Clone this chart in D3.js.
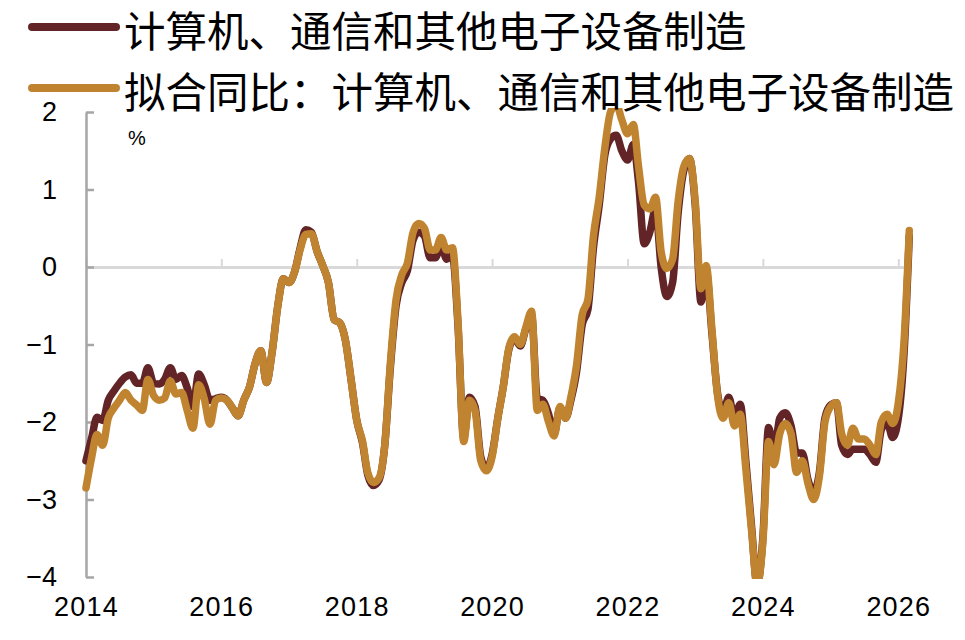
<!DOCTYPE html>
<html>
<head>
<meta charset="utf-8">
<script src="https://d3js.org/d3.v7.min.js"></script>
<style>
  body { margin: 0; background: #fff; }
  text { font-family: "Liberation Sans", Arial, sans-serif; }
  .legendText { font-family: "Noto Sans CJK SC", sans-serif; }
</style>
</head>
<body>
<div id="chart"></div>
<script>
// monthly data, starting Jan 2014
var startYear = 2014;

// actual YoY: computer, communication and other electronic equipment
var actual = [
  -2.5, -2.2, -1.94, -1.98, -1.72, -1.6, -1.5, -1.42, -1.39, -1.5, -1.5, -1.3,
  -1.5, -1.51, -1.45, -1.3, -1.45, -1.4, -1.56, -1.8, -1.38, -1.52, -1.72, -1.7,
  -1.68, -1.72, -1.82, -1.92, -1.72, -1.55, -1.25, -1.08, -1.49, -1.1, -0.5, -0.15,
  -0.2, -0.05, 0.24, 0.48, 0.45, 0.2, 0.02, -0.2, -0.68, -0.72, -0.95, -1.45,
  -1.98, -2.27, -2.68, -2.82, -2.75, -2.3, -1.3, -0.5, -0.2, -0.05, 0.35, 0.45,
  0.4, 0.12, 0.12, 0.28, 0.1, 0.15, -0.75, -2.2, -1.68, -1.8, -2.45, -2.6,
  -2.42, -1.95, -1.55, -1.06, -0.92, -1.02, -0.8, -0.62, -1.7, -1.72, -1.9, -2.15,
  -1.82, -1.95, -1.72, -1.35, -0.75, -0.55, 0.25, 0.8, 1.45, 1.65, 1.7, 1.5,
  1.38, 1.58, 1.1, 0.3, 0.45, 0.75, 0.0, -0.38, -0.2, 0.7, 1.25, 1.4,
  0.8, -0.45, -0.05, -0.85, -1.62, -1.88, -1.68, -1.95, -1.77, -2.5, -3.35, -4.1,
  -3.5, -2.07, -2.4, -1.95, -1.88, -2.05, -2.4, -2.4, -2.75, -2.9, -2.65, -1.95,
  -1.78, -1.75, -2.3, -2.42, -2.35, -2.35, -2.35, -2.42, -2.52, -2.1, -2.0, -2.2,
  -1.95, -1.1, 0.4
];

// fitted YoY
var fitted = [
  -2.85, -2.45, -2.16, -2.3, -1.95, -1.82, -1.72, -1.62, -1.72, -1.78, -1.85, -1.45,
  -1.66, -1.72, -1.69, -1.47, -1.64, -1.62, -1.85, -2.08, -1.52, -1.7, -2.03, -1.72,
  -1.69, -1.72, -1.82, -1.92, -1.72, -1.55, -1.25, -1.08, -1.49, -1.1, -0.5, -0.15,
  -0.2, -0.05, 0.22, 0.42, 0.43, 0.2, 0.02, -0.2, -0.68, -0.72, -0.95, -1.45,
  -1.98, -2.25, -2.65, -2.78, -2.72, -2.3, -1.25, -0.42, -0.1, 0.05, 0.45, 0.56,
  0.5, 0.22, 0.22, 0.38, 0.22, 0.25, -0.7, -2.25, -1.72, -1.85, -2.5, -2.63,
  -2.45, -1.95, -1.55, -1.04, -0.9, -1.0, -0.78, -0.57, -1.85, -1.77, -2.0, -2.18,
  -1.8, -1.95, -1.68, -1.26, -0.62, -0.42, 0.4, 0.9, 1.55, 2.0, 2.1, 1.9,
  1.72, 1.84, 1.3, 0.8, 0.75, 0.9, 0.2, -0.02, 0.1, 0.85, 1.3, 1.4,
  0.85, -0.28, 0.02, -0.8, -1.65, -1.95, -1.75, -2.05, -1.9, -2.6, -3.4, -4.1,
  -3.55, -2.25, -2.55, -2.15, -2.02, -2.15, -2.65, -2.5, -2.8, -3.0, -2.7, -2.0,
  -1.8, -1.75, -2.15, -2.3, -2.08, -2.22, -2.22, -2.3, -2.42, -2.0, -1.9, -2.02,
  -1.75, -0.95, 0.47
];

var yTicks = [-4, -3, -2, -1, 0, 1, 2];
var xTickYears = [2014, 2016, 2018, 2020, 2022, 2024, 2026];
var legendLabels = ["计算机、通信和其他电子设备制造", "拟合同比：计算机、通信和其他电子设备制造"];
var colors = ["#622426", "#c08431"];

var svgWidth = 965;
var svgHeight = 640;

var svg = d3.select("#chart")
  .append("svg")
  .attr("width", svgWidth)
  .attr("height", svgHeight)
  .style("background", "#fff");

// scales
var xScale = d3.scaleTime()
  .domain([new Date(2014, 0, 1), new Date(2026, 2, 1)])
  .range([86, 86 + 812 * (12 + 2 / 12) / 12]);

var yScale = d3.scaleLinear()
  .domain([-4, 2])
  .range([577, 112]);

function toDate(i) {
  return new Date(startYear, i, 1);
}

// zero line with upward year ticks
var zeroAxis = d3.axisBottom(xScale)
  .tickValues(xTickYears.map(d => new Date(d, 0, 1)))
  .tickSizeInner(-8)
  .tickSizeOuter(0)
  .tickFormat("");

var zeroG = svg.append("g")
  .attr("transform", `translate(0, ${yScale(0)})`)
  .call(zeroAxis);
zeroG.select(".domain").attr("stroke", "#d9d9d9").attr("stroke-width", 3);
zeroG.selectAll(".tick line").attr("stroke", "#d9d9d9").attr("stroke-width", 2);

// year labels along the bottom
var labelAxis = d3.axisBottom(xScale)
  .tickValues(xTickYears.map(d => new Date(d, 0, 1)))
  .tickSize(0)
  .tickPadding(0)
  .tickFormat(d3.timeFormat("%Y"));

var labelG = svg.append("g")
  .attr("transform", "translate(0, 597)")
  .call(labelAxis);
labelG.select(".domain").remove();
labelG.selectAll("text")
  .attr("font-size", 27)
  .attr("font-family", "Liberation Sans, Arial, sans-serif")
  .attr("letter-spacing", 1.2)
  .attr("fill", "#000");

// left axis, ticks pointing inward
var leftAxis = d3.axisLeft(yScale)
  .tickValues(yTicks)
  .tickSizeInner(-8)
  .tickSizeOuter(0)
  .tickPadding(29)
  .tickFormat(d3.format("d"));

var yG = svg.append("g")
  .attr("transform", "translate(86, 0)")
  .call(leftAxis);
yG.select(".domain").attr("stroke", "#a6a6a6").attr("stroke-width", 2.5);
yG.selectAll(".tick line").attr("stroke", "#a6a6a6").attr("stroke-width", 2.5);
yG.selectAll("text")
  .attr("font-size", 27)
  .attr("font-family", "Liberation Sans, Arial, sans-serif")
  .attr("fill", "#000");

svg.append("text")
  .attr("x", 128)
  .attr("y", 145)
  .attr("font-size", 20)
  .attr("fill", "#000")
  .text("%");

// clip lines to the plot range
svg.append("clipPath")
  .attr("id", "plotClip")
  .append("rect")
  .attr("x", 0)
  .attr("y", yScale(2) - 4)
  .attr("width", svgWidth)
  .attr("height", yScale(-4) - yScale(2) + 6);

var line = d3.line()
  .x((d, i) => xScale(toDate(i)))
  .y(d => yScale(d))
  .curve(d3.curveMonotoneX);

var linesGroup = svg.append("g").attr("clip-path", "url(#plotClip)");

[actual, fitted].forEach(function(series, k) {
  linesGroup.append("path")
    .datum(series)
    .attr("fill", "none")
    .attr("stroke", colors[k])
    .attr("stroke-width", 7.5)
    .attr("stroke-linejoin", "round")
    .attr("stroke-linecap", "round")
    .attr("d", line);
});

// legend
var legend = svg.append("g");
legendLabels.forEach(function(label, k) {
  var yPos = 29 + k * 61;
  legend.append("line")
    .attr("x1", 32)
    .attr("x2", 116)
    .attr("y1", yPos - 2)
    .attr("y2", yPos - 2)
    .attr("stroke", colors[k])
    .attr("stroke-width", 8)
    .attr("stroke-linecap", "round");
  legend.append("text")
    .attr("class", "legendText")
    .attr("x", 124)
    .attr("y", yPos)
    .attr("dominant-baseline", "central")
    .attr("font-size", 41.5)
    .attr("fill", "#000")
    .text(label);
});
</script>
</body>
</html>
